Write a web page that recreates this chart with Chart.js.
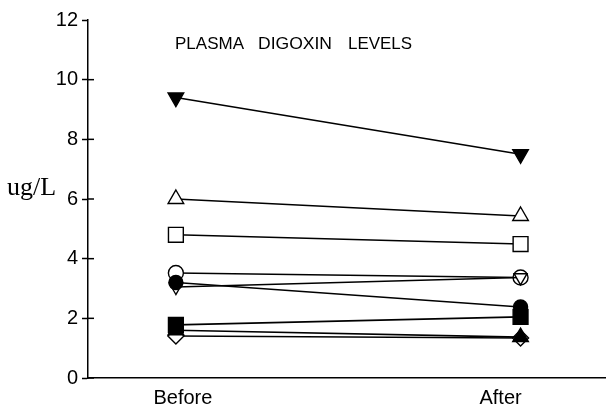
<!DOCTYPE html>
<html>
<head>
<meta charset="utf-8">
<script src="https://cdn.jsdelivr.net/npm/chart.js@4.4.0/dist/chart.umd.min.js"></script>
<style>
html,body{margin:0;padding:0;background:#fff;}
#wrap{width:607px;height:408px;position:relative;}
</style>
</head>
<body>
<div id="wrap"><canvas id="c" width="607" height="408"></canvas></div>
<script>
const categories = ['Before', 'After'];
const yTicks = [0, 2, 4, 6, 8, 10, 12];
const patients = ['A', 'B', 'C', 'D', 'E', 'F', 'G', 'H', 'I'];
const beforeValues = [9.4, 6.0, 4.8, 3.52, 3.05, 3.2, 1.78, 1.6, 1.41];
const afterValues  = [7.5, 5.43, 4.49, 3.37, 3.37, 2.38, 2.05, 1.37, 1.34];
const titleText = 'PLASMA DIGOXIN LEVELS';
const yLabel = 'ug/L';

// marker styles per patient (order: lower is drawn on top)
const markers = [
  {style:'triangle', rot:180, fill:true,  r:9,    order:1},
  {style:'triangle', rot:0,   fill:false, r:9,    order:1},
  {style:'rect',     rot:0,   fill:false, r:10.5, order:1},
  {style:'circle',   rot:0,   fill:false, r:7.5,  order:3},
  {style:'triangle', rot:180, fill:false, r:7.5,  order:2},
  {style:'circle',   rot:0,   fill:true,  r:7,    order:0},
  {style:'rect',     rot:0,   fill:true,  r:10.5, order:1},
  {style:'triangle', rot:0,   fill:true,  r:9,    order:0},
  {style:'rectRot',  rot:0,   fill:false, r:8,    order:2}
];

const datasets = patients.map((p, i) => ({
  label: p,
  order: markers[i].order,
  data: [{x:0, y:beforeValues[i]}, {x:1, y:afterValues[i]}],
  borderColor: '#000',
  borderWidth: 1.6,
  backgroundColor: markers[i].fill ? '#000' : '#fff',
  pointBackgroundColor: markers[i].fill ? '#000' : '#fff',
  pointBorderColor: '#000',
  pointBorderWidth: 1.4,
  pointStyle: markers[i].style,
  pointRotation: markers[i].rot,
  pointRadius: markers[i].r,
  pointHoverRadius: markers[i].r,
  showLine: true,
  fill: false,
  tension: 0
}));

const decor = {
  id: 'decor',
  afterDraw(chart) {
    const ctx = chart.ctx;
    const ys = chart.scales.y, xs = chart.scales.x;
    const ax = ys.right;
    ctx.save();
    ctx.strokeStyle = '#000';
    ctx.lineWidth = 1.5;
    // inner half of crossing ticks
    yTicks.forEach(v => {
      if (v === 12) return;
      const py = ys.getPixelForValue(v);
      ctx.beginPath(); ctx.moveTo(ax, py); ctx.lineTo(ax + 6, py); ctx.stroke();
    });
    // title words
    ctx.fillStyle = '#000';
    ctx.textBaseline = 'alphabetic';
    ctx.font = '17px "Liberation Sans", Arial, sans-serif';
    const words = titleText.split(' ');
    const wx = [175, 258, 348];
    const ww = [69, 74, 64];
    words.forEach((w, i) => {
      const m = ctx.measureText(w).width;
      ctx.save();
      ctx.translate(wx[i], 49);
      ctx.scale(ww[i] / m, 1);
      ctx.fillText(w, 0, 0);
      ctx.restore();
    });
    // y label
    ctx.font = '26px "Liberation Serif", "Times New Roman", serif';
    ctx.textAlign = 'left';
    ctx.fillText(yLabel, 7, 195);
    // x labels
    ctx.font = '20px "Liberation Sans", Arial, sans-serif';
    ctx.textAlign = 'center';
    const offs = [7, -20];
    categories.forEach((c, i) => {
      ctx.fillText(c, xs.getPixelForValue(i) + offs[i], 404);
    });
    ctx.restore();
  }
};

new Chart(document.getElementById('c'), {
  type: 'scatter',
  data: { datasets },
  options: {
    responsive: false,
    animation: false,
    events: [],
    layout: { autoPadding: false, padding: { top: 20, right: 2, bottom: 0, left: 0 } },
    plugins: { legend: { display: false }, tooltip: { enabled: false }, title: { display: false } },
    scales: {
      x: {
        type: 'linear',
        min: -0.255, max: 1.245,
        afterFit(s) { s.height = 30; },
        ticks: { display: false },
        grid: { display: true, drawOnChartArea: false, drawTicks: false },
        border: { display: true, color: '#000', width: 1.5 }
      },
      y: {
        min: 0, max: 12,
        afterFit(s) { s.width = 88; },
        afterBuildTicks(s) { s.ticks = yTicks.map(v => ({value: v})); },
        ticks: {
          color: '#000',
          padding: 4,
          font: { family: '"Liberation Sans", Arial, sans-serif', size: 20 },
          callback: v => String(v)
        },
        grid: { drawOnChartArea: false, drawTicks: true, tickLength: 6, tickWidth: 1.5, tickColor: '#000' },
        border: { display: true, color: '#000', width: 1.5 }
      }
    }
  },
  plugins: [decor]
});
</script>
</body>
</html>
